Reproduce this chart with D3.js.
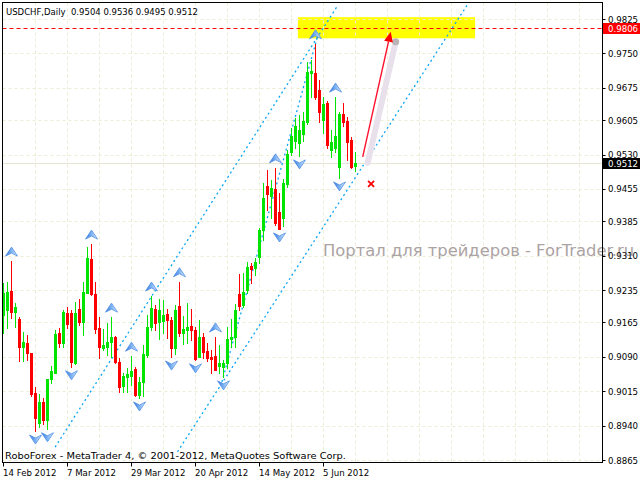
<!DOCTYPE html>
<html><head><meta charset="utf-8">
<script src="https://cdn.jsdelivr.net/npm/d3@7"></script>
<style>body{margin:0;background:#fff}svg{display:block}</style>
</head><body><svg id="c" width="640" height="480"></svg>
<script>
// ---------------- data ----------------
const title = "USDCHF,Daily  0.9504 0.9536 0.9495 0.9512";
const openP  = [0.9181,0.9192,0.9233,0.9187,0.9172,0.9111,0.9120,0.9098,0.9011,0.8946,0.8991,0.8952,0.9041,0.9054,0.9142,0.9120,0.9185,0.9185,0.9076,0.9194,0.9165,0.9229,0.9303,0.9226,0.9152,0.9109,0.9111,0.9122,0.9133,0.9078,0.9026,0.9046,0.9048,0.9063,0.9007,0.9035,0.9094,0.9155,0.9194,0.9165,0.9168,0.9183,0.9170,0.9109,0.9200,0.9142,0.9148,0.9157,0.9148,0.9089,0.9133,0.9102,0.9089,0.9091,0.9070,0.9068,0.9076,0.9128,0.9133,0.9226,0.9202,0.9235,0.9287,0.9283,0.9307,0.9366,0.9462,0.9440,0.9455,0.9405,0.9392,0.9466,0.9536,0.9559,0.9555,0.9575,0.9601,0.9707,0.9707,0.9670,0.9605,0.9642,0.9540,0.9544,0.9503,0.9618,0.9603,0.9562,0.9504];
const highP  = [0.9250,0.9253,0.9298,0.9207,0.9176,0.9144,0.9137,0.9098,0.9024,0.9009,0.9000,0.9041,0.9070,0.9148,0.9152,0.9192,0.9198,0.9192,0.9209,0.9216,0.9253,0.9329,0.9335,0.9253,0.9176,0.9150,0.9163,0.9176,0.9135,0.9087,0.9054,0.9065,0.9091,0.9068,0.9046,0.9115,0.9181,0.9222,0.9202,0.9216,0.9213,0.9194,0.9176,0.9202,0.9253,0.9179,0.9207,0.9194,0.9155,0.9170,0.9142,0.9120,0.9105,0.9133,0.9115,0.9083,0.9155,0.9172,0.9205,0.9270,0.9272,0.9296,0.9294,0.9305,0.9370,0.9468,0.9496,0.9475,0.9501,0.9446,0.9477,0.9540,0.9588,0.9610,0.9616,0.9623,0.9731,0.9736,0.9771,0.9692,0.9655,0.9647,0.9583,0.9655,0.9623,0.9642,0.9612,0.9568,0.9536];
const lowP   = [0.9142,0.9152,0.9174,0.9155,0.9081,0.9081,0.9083,0.9004,0.8928,0.8937,0.8943,0.8933,0.9033,0.9054,0.9111,0.9111,0.9152,0.9068,0.9074,0.9159,0.9137,0.9229,0.9224,0.9142,0.9087,0.9105,0.9094,0.9089,0.9076,0.9013,0.9013,0.9013,0.9028,0.9004,0.9000,0.9004,0.9089,0.9148,0.9148,0.9128,0.9142,0.9131,0.9089,0.9096,0.9135,0.9118,0.9120,0.9126,0.9083,0.9089,0.9087,0.9081,0.9054,0.9061,0.9054,0.9046,0.9065,0.9111,0.9111,0.9192,0.9198,0.9229,0.9250,0.9268,0.9294,0.9344,0.9409,0.9392,0.9377,0.9368,0.9374,0.9459,0.9529,0.9544,0.9527,0.9559,0.9596,0.9655,0.9651,0.9601,0.9577,0.9544,0.9525,0.9536,0.9479,0.9592,0.9518,0.9501,0.9495];
const closeP = [0.9229,0.9231,0.9187,0.9198,0.9111,0.9122,0.9098,0.9009,0.8957,0.8991,0.8952,0.9041,0.9059,0.9139,0.9120,0.9187,0.9161,0.9078,0.9185,0.9165,0.9231,0.9305,0.9226,0.9150,0.9111,0.9115,0.9122,0.9133,0.9078,0.9024,0.9048,0.9052,0.9059,0.9007,0.9035,0.9096,0.9155,0.9196,0.9163,0.9192,0.9181,0.9170,0.9109,0.9192,0.9142,0.9150,0.9155,0.9148,0.9085,0.9133,0.9100,0.9087,0.9085,0.9061,0.9076,0.9076,0.9128,0.9133,0.9192,0.9200,0.9231,0.9285,0.9281,0.9296,0.9366,0.9435,0.9444,0.9457,0.9381,0.9368,0.9468,0.9531,0.9570,0.9592,0.9583,0.9603,0.9710,0.9712,0.9655,0.9623,0.9640,0.9551,0.9557,0.9570,0.9618,0.9601,0.9557,0.9503,0.9512];
const fractalUp   = [2,22,27,32,37,44,53,68,78,83];
const fractalDown = [8,11,17,34,42,48,55,69,74,84];
const yTicks = [0.9825,0.9750,0.9675,0.9605,0.9530,0.9455,0.9385,0.9310,0.9235,0.9165,0.9090,0.9015,0.8940,0.8865];
const xTickIndex  = [0,16,32,48,64,80];
const xTickLabels = ["14 Feb 2012","7 Mar 2012","29 Mar 2012","20 Apr 2012","14 May 2012","5 Jun 2012"];
const targetLevel = 0.9806;
const bidLevel = 0.9512;
const zoneIdx = [73.6, 117.9];
const zonePrice = [0.9829, 0.9783];
const channelA = [[12.9, 0.8893], [83.6, 0.9855]];
const channelB = [[43.5, 0.8883], [115.9, 0.9855]];
const channelD = [[54.6, 0.9035], [78.6, 0.9790]];
const forecastFrom = [89.8, 0.9525];
const forecastTo   = [96.8, 0.9797];
const crossMark = [91.9, 0.9466];
const watermark = "Портал для трейдеров - ForTrader.ru";
const copyright = "RoboForex - MetaTrader 4, © 2001-2012, MetaQuotes Software Corp.";

// ---------------- drawing ----------------
const svg = d3.select("#c");
const L = 2.5, T = 2.5, R = 602.5, B = 462.5;
const x = d3.scaleLinear().domain([0, 88]).range([3.5, 355.5]);
const y = d3.scaleLinear().domain([0.8865, 0.9825]).range([460, 19]);
const FONT = "'DejaVu Sans', Tahoma, sans-serif";

const defs = svg.append("defs");
defs.append("clipPath").attr("id","plot").append("rect")
  .attr("x",L).attr("y",T).attr("width",R-L).attr("height",B-T);
const g1 = defs.append("linearGradient").attr("id","arr").attr("x1","0").attr("x2","1").attr("y1","0").attr("y2","0");
g1.append("stop").attr("offset","0").attr("stop-color","#2f6fdc");
g1.append("stop").attr("offset","0.5").attr("stop-color","#7fb4f2");
g1.append("stop").attr("offset","1").attr("stop-color","#e4f1ff");

const plot = svg.append("g").attr("clip-path","url(#plot)");

// yellow target zone
plot.append("rect")
  .attr("x", x(zoneIdx[0])).attr("y", y(zonePrice[0]))
  .attr("width", x(zoneIdx[1]) - x(zoneIdx[0]))
  .attr("height", y(zonePrice[1]) - y(zonePrice[0]))
  .attr("fill", "#ffff00");

// grid
const vGrid = d3.range(8, 150, 8);
plot.selectAll(".vg").data(vGrid).join("line")
  .attr("x1", d => Math.round(x(d)) - 0.5).attr("x2", d => Math.round(x(d)) - 0.5)
  .attr("y1", T).attr("y2", B)
  .attr("stroke", "#ececd4").attr("stroke-dasharray", "3,3");
plot.selectAll(".hg").data(yTicks).join("line")
  .attr("x1", L).attr("x2", R)
  .attr("y1", d => Math.round(y(d)) + 0.5).attr("y2", d => Math.round(y(d)) + 0.5)
  .attr("stroke", "#ececd4").attr("stroke-dasharray", "3,3");

// bid line
plot.append("line").attr("x1", L).attr("x2", R)
  .attr("y1", Math.round(y(bidLevel)) + 0.5).attr("y2", Math.round(y(bidLevel)) + 0.5)
  .attr("stroke", "#e6e6d2");

// target level dashed red
plot.append("line").attr("x1", L).attr("x2", R)
  .attr("y1", Math.round(y(targetLevel)) + 0.5).attr("y2", Math.round(y(targetLevel)) + 0.5)
  .attr("stroke", "#ff0000").attr("stroke-dasharray", "4,3");

// channel lines
function dotted(seg, color, dash) {
  plot.append("line")
    .attr("x1", x(seg[0][0])).attr("y1", y(seg[0][1]))
    .attr("x2", x(seg[1][0])).attr("y2", y(seg[1][1]))
    .attr("stroke", color).attr("stroke-width", 1.3).attr("stroke-dasharray", dash);
}
dotted(channelA, "#0aa6f5", "2,3");
dotted(channelB, "#0aa6f5", "2,3");
dotted(channelD, "#0aa6f5", "2,3");

// candles
const bars = openP.map((o, i) => ({i, o, h: highP[i], l: lowP[i], c: closeP[i]}));
const col = d => d.c >= d.o ? "#00e400" : "#ff0000";
const cg = plot.append("g").attr("shape-rendering", "crispEdges");
cg.selectAll(".wick").data(bars).join("rect")
  .attr("x", d => x(d.i) - 0.5).attr("width", 1)
  .attr("y", d => Math.round(y(d.h))).attr("height", d => Math.max(1, Math.round(y(d.l)) - Math.round(y(d.h)) + 1))
  .attr("fill", col);
cg.selectAll(".body").data(bars).join("rect")
  .attr("x", d => x(d.i) - 1.5).attr("width", 3)
  .attr("y", d => Math.round(y(Math.max(d.o, d.c))))
  .attr("height", d => Math.max(1, Math.round(y(Math.min(d.o, d.c))) - Math.round(y(Math.max(d.o, d.c))) + 1))
  .attr("fill", col);

// fractal arrows
plot.selectAll(".fu").data(fractalUp).join("path")
  .attr("transform", i => `translate(${x(i)},${y(highP[i]) - 9})`)
  .attr("d", "M0,-5L6,4L0,1L-6,4Z")
  .attr("fill", "url(#arr)").attr("stroke", "#4f8fe6").attr("stroke-width", 0.8);
plot.selectAll(".fd").data(fractalDown).join("path")
  .attr("transform", i => `translate(${x(i)},${y(lowP[i]) + 8})`)
  .attr("d", "M0,5L6,-4L0,-1L-6,-4Z")
  .attr("fill", "url(#arr)").attr("stroke", "#4f8fe6").attr("stroke-width", 0.8);

// forecast arrow with shadow
const ax0 = x(forecastFrom[0]), ay0 = y(forecastFrom[1]);
const ax1 = x(forecastTo[0]), ay1 = y(forecastTo[1]);
plot.append("line").attr("x1", ax0 + 5).attr("y1", ay0 + 6).attr("x2", ax1 + 5).attr("y2", ay1 + 10)
  .attr("stroke", "#e8e0ea").attr("stroke-width", 6).attr("stroke-linecap", "round");
plot.append("circle").attr("cx", ax1 + 5).attr("cy", ay1 + 10).attr("r", 3.5).attr("fill", "#b8b4b8");
const ang = Math.atan2(ay1 - ay0, ax1 - ax0);
const hl = 10, hw = 4.5;
const bx = ax1 - hl * Math.cos(ang), by = ay1 - hl * Math.sin(ang);
plot.append("line").attr("x1", ax0).attr("y1", ay0).attr("x2", bx).attr("y2", by)
  .attr("stroke", "#ff1030").attr("stroke-width", 1.4);
plot.append("path")
  .attr("d", `M${ax1},${ay1}L${bx - hw * Math.sin(ang)},${by + hw * Math.cos(ang)}L${bx + hw * Math.sin(ang)},${by - hw * Math.cos(ang)}Z`)
  .attr("fill", "#ff0000");

// cross marker
const cx = x(crossMark[0]), cy = y(crossMark[1]);
plot.append("path").attr("d", `M${cx-3},${cy-3}L${cx+3},${cy+3}M${cx+3},${cy-3}L${cx-3},${cy+3}`)
  .attr("stroke", "#ff0000").attr("stroke-width", 1.8);

// watermark
svg.append("text").attr("x", 323).attr("y", 256).text(watermark)
  .attr("font-family", FONT).attr("font-size", 16).attr("fill", "#aca3a3")
  .attr("textLength", 311).attr("lengthAdjust", "spacingAndGlyphs");

// title and copyright
svg.append("text").attr("x", 6).attr("y", 15).text(title)
  .attr("font-family", FONT).attr("font-size", 9).attr("fill", "#000")
  .attr("xml:space", "preserve").attr("textLength", 192).attr("lengthAdjust", "spacingAndGlyphs");
svg.append("text").attr("x", 5).attr("y", 459).text(copyright)
  .attr("font-family", FONT).attr("font-size", 9).attr("fill", "#000")
  .attr("textLength", 341).attr("lengthAdjust", "spacingAndGlyphs");

// border
svg.append("rect").attr("x", L).attr("y", T).attr("width", R - L).attr("height", B - T)
  .attr("fill", "none").attr("stroke", "#000");

// y axis
const ya = svg.append("g");
ya.selectAll("line").data(yTicks).join("line")
  .attr("x1", R).attr("x2", R + 3)
  .attr("y1", d => Math.round(y(d)) + 0.5).attr("y2", d => Math.round(y(d)) + 0.5)
  .attr("stroke", "#000");
ya.selectAll("text").data(yTicks).join("text")
  .attr("x", 608).attr("y", d => y(d) + 3.5)
  .text(d => d.toFixed(4))
  .attr("font-family", FONT).attr("font-size", 8.6).attr("fill", "#000");

function priceTag(p, bg) {
  const yy = Math.round(y(p));
  svg.append("rect").attr("x", 603).attr("y", yy - 5).attr("width", 37).attr("height", 11).attr("fill", bg);
  svg.append("text").attr("x", 608).attr("y", yy + 3.5).text(p.toFixed(4))
    .attr("font-family", FONT).attr("font-size", 8.6).attr("fill", "#fff");
}
priceTag(targetLevel, "#ff0000");
priceTag(bidLevel, "#000000");

// x axis
const xa = svg.append("g");
xa.selectAll("line").data(xTickIndex).join("line")
  .attr("x1", d => Math.round(x(d)) - 0.5).attr("x2", d => Math.round(x(d)) - 0.5)
  .attr("y1", B).attr("y2", B + 4).attr("stroke", "#000");
xa.selectAll("text").data(xTickIndex).join("text")
  .attr("x", d => x(d) - 0.5).attr("y", 476)
  .text((d, k) => xTickLabels[k])
  .attr("font-family", FONT).attr("font-size", 8.6).attr("fill", "#000");
</script></body></html>
